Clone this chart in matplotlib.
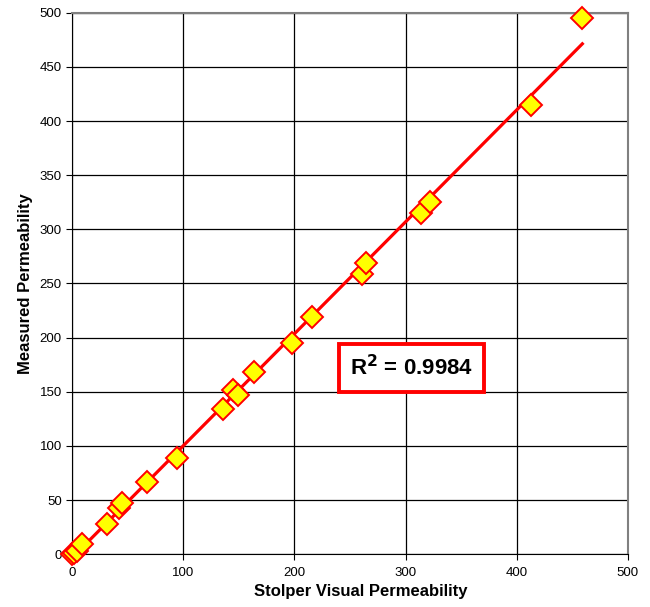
import numpy as np
import matplotlib.pyplot as plt

# Stolper visual vs measured permeability
visual = [0, 2, 4, 9, 31, 42, 45, 67, 94, 136, 145, 149, 164, 198, 216,
          261, 264, 314, 322, 413, 459]
measured = [0, 1, 3, 9, 28, 43, 47, 67, 89, 134, 152, 147, 168, 195, 219,
            259, 269, 315, 325, 415, 495]
r2_text = r'R$^{\mathbf{2}}$ = 0.9984'

plt.rcParams['font.family'] = ['Liberation Sans', 'DejaVu Sans']

fig = plt.figure(figsize=(6.5, 6.07), dpi=100)
ax = fig.add_axes([0.111, 0.087, 0.855, 0.892])

# linear trendline
x = np.array(visual, dtype=float)
y = np.array(measured, dtype=float)
m, b = np.polyfit(x, y, 1)
xl = np.array([x.min(), x.max()])
ax.plot(xl, m * xl + b, color='#ff0000', lw=2.3, zorder=2)

ax.plot(visual, measured, linestyle='none', marker='D', markersize=11,
        markerfacecolor='#ffff00', markeredgecolor='#ff0000',
        markeredgewidth=1.4, zorder=3, clip_on=False)

ax.set_xlim(0, 500)
ax.set_ylim(0, 500)
ax.set_xticks(range(0, 501, 100))
ax.set_yticks(range(0, 501, 50))
ax.grid(True, color='black', lw=0.9)
ax.set_axisbelow(True)
ax.tick_params(labelsize=9.5, direction='out', length=4)
ax.tick_params(axis='x', pad=5)

for s in ['top', 'right']:
    ax.spines[s].set_color('#808080')
    ax.spines[s].set_linewidth(1.5)
for s in ['left', 'bottom']:
    ax.spines[s].set_color('black')

ax.set_xlabel('Stolper Visual Permeability', fontsize=12, fontweight='bold',
              labelpad=3)
ax.xaxis.set_label_coords(0.52, -0.055)
ax.set_ylabel('Measured Permeability', fontsize=12, fontweight='bold',
              labelpad=5)

ax.text(305, 172, r2_text, fontsize=16, fontweight='bold', ha='center',
        va='center', zorder=5,
        bbox=dict(boxstyle='square,pad=0.5', facecolor='white',
                  edgecolor='#ff0000', linewidth=2.8))

fig.savefig('out.png', dpi=100)
